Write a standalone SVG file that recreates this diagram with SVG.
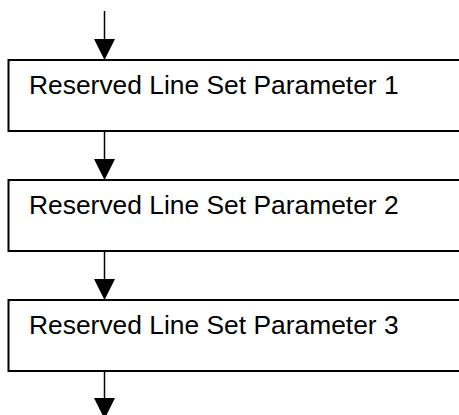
<svg xmlns="http://www.w3.org/2000/svg" width="459" height="415" viewBox="0 0 459 415">
<style>
.box{fill:#fff;stroke:#000;stroke-width:2}
.lbl{font-family:"Liberation Sans",Arial,sans-serif;font-size:26.4px;fill:#000}
.conn{stroke:#000;stroke-width:1.5;fill:none}
.head{fill:#000}
</style>
<rect width="459" height="415" fill="#fff"/>
<g id="connectors">
<line class="conn" x1="104.5" y1="11" x2="104.5" y2="40"/>
<polygon class="head" points="94,39 115,39 104.5,60"/>
<line class="conn" x1="104.5" y1="131" x2="104.5" y2="160"/>
<polygon class="head" points="94,159 115,159 104.5,180"/>
<line class="conn" x1="104.5" y1="251" x2="104.5" y2="280"/>
<polygon class="head" points="94,279 115,279 104.5,300"/>
<line class="conn" x1="104.5" y1="371" x2="104.5" y2="399"/>
<polygon class="head" points="94,398 115,398 104.5,419"/>
</g>
<g id="node1">
<rect class="box" x="8.5" y="60" width="460" height="71"/>
<text class="lbl" x="29" y="94">Reserved Line Set Parameter 1</text>
</g>
<g id="node2">
<rect class="box" x="8.5" y="180" width="460" height="71"/>
<text class="lbl" x="29" y="214">Reserved Line Set Parameter 2</text>
</g>
<g id="node3">
<rect class="box" x="8.5" y="300" width="460" height="71"/>
<text class="lbl" x="29" y="334">Reserved Line Set Parameter 3</text>
</g>
</svg>
